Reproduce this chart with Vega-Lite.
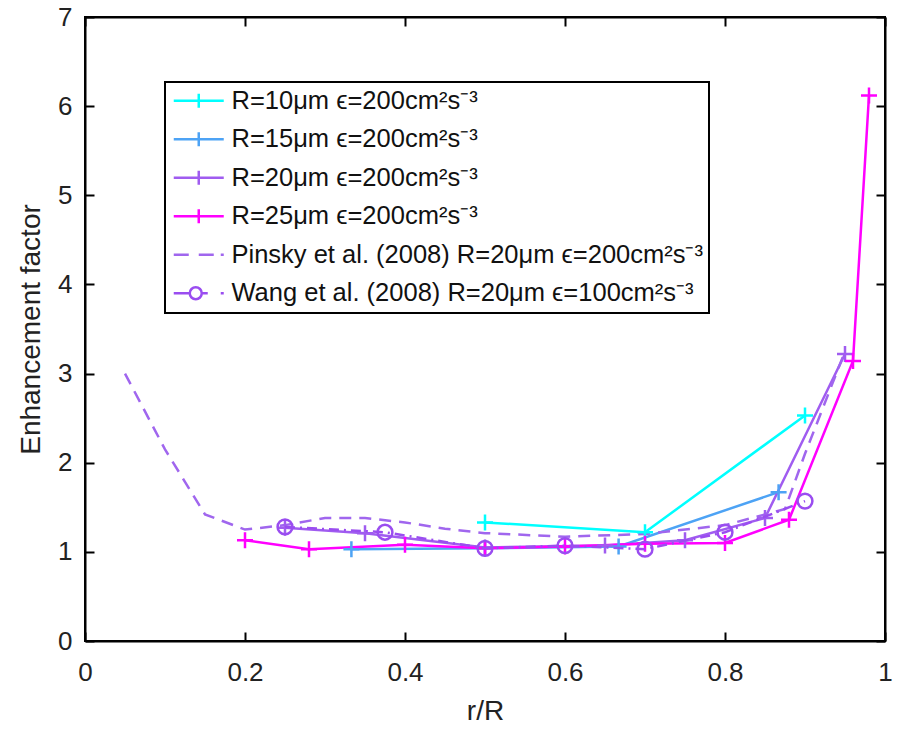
{
  "$schema": "https://vega.github.io/schema/vega-lite/v6.json",
  "width": 800,
  "height": 624,
  "autosize": "none",
  "padding": {"left": 85, "top": 17, "right": 16, "bottom": 89},
  "background": "white",
  "config": {
    "view": {"stroke": "black", "strokeWidth": 2},
    "font": "Liberation Sans",
    "axis": {"grid": false, "domainColor": "black", "domainWidth": 2, "tickColor": "black", "tickWidth": 2, "tickSize": -9, "labelColor": "#222", "titleColor": "#222", "labelFontSize": 26, "titleFontSize": 28, "titleFontWeight": "normal", "labelFont": "Liberation Sans", "titleFont": "Liberation Sans", "labelFlush": false},
    "legend": {
      "orient": "none",
      "legendX": 80,
      "legendY": 65,
      "direction": "vertical",
      "fillColor": "white",
      "strokeColor": "black",
      "strokeWidth": 2,
      "padding": 6,
      "labelFontSize": 25.5,
      "labelFont": "Liberation Sans",
      "labelColor": "#111",
      "labelLimit": 1000,
      "symbolSize": 400,
      "symbolStrokeWidth": 2.5,
      "labelOffset": 35,
      "rowPadding": 11.5
    }
  },
  "datasets": {
    "main": [
      {"s": "R=10μm ϵ=200cm²s⁻³", "x": 0.5, "y": 1.33},
      {"s": "R=10μm ϵ=200cm²s⁻³", "x": 0.7, "y": 1.22},
      {"s": "R=10μm ϵ=200cm²s⁻³", "x": 0.9, "y": 2.53},
      {"s": "R=15μm ϵ=200cm²s⁻³", "x": 0.333, "y": 1.03},
      {"s": "R=15μm ϵ=200cm²s⁻³", "x": 0.5, "y": 1.04},
      {"s": "R=15μm ϵ=200cm²s⁻³", "x": 0.667, "y": 1.06},
      {"s": "R=15μm ϵ=200cm²s⁻³", "x": 0.867, "y": 1.67},
      {"s": "R=20μm ϵ=200cm²s⁻³", "x": 0.25, "y": 1.27},
      {"s": "R=20μm ϵ=200cm²s⁻³", "x": 0.35, "y": 1.21},
      {"s": "R=20μm ϵ=200cm²s⁻³", "x": 0.5, "y": 1.05},
      {"s": "R=20μm ϵ=200cm²s⁻³", "x": 0.65, "y": 1.07},
      {"s": "R=20μm ϵ=200cm²s⁻³", "x": 0.75, "y": 1.13},
      {"s": "R=20μm ϵ=200cm²s⁻³", "x": 0.85, "y": 1.38},
      {"s": "R=20μm ϵ=200cm²s⁻³", "x": 0.95, "y": 3.22},
      {"s": "R=25μm ϵ=200cm²s⁻³", "x": 0.2, "y": 1.13},
      {"s": "R=25μm ϵ=200cm²s⁻³", "x": 0.28, "y": 1.03},
      {"s": "R=25μm ϵ=200cm²s⁻³", "x": 0.4, "y": 1.08},
      {"s": "R=25μm ϵ=200cm²s⁻³", "x": 0.5, "y": 1.04},
      {"s": "R=25μm ϵ=200cm²s⁻³", "x": 0.6, "y": 1.06},
      {"s": "R=25μm ϵ=200cm²s⁻³", "x": 0.7, "y": 1.09},
      {"s": "R=25μm ϵ=200cm²s⁻³", "x": 0.8, "y": 1.1},
      {"s": "R=25μm ϵ=200cm²s⁻³", "x": 0.88, "y": 1.36},
      {"s": "R=25μm ϵ=200cm²s⁻³", "x": 0.96, "y": 3.14},
      {"s": "R=25μm ϵ=200cm²s⁻³", "x": 0.98, "y": 6.12}
    ],
    "pinsky": [
      {"s": "Pinsky et al. (2008) R=20μm ϵ=200cm²s⁻³", "x": 0.05, "y": 3.0},
      {"s": "Pinsky et al. (2008) R=20μm ϵ=200cm²s⁻³", "x": 0.1, "y": 2.15},
      {"s": "Pinsky et al. (2008) R=20μm ϵ=200cm²s⁻³", "x": 0.15, "y": 1.42},
      {"s": "Pinsky et al. (2008) R=20μm ϵ=200cm²s⁻³", "x": 0.2, "y": 1.25},
      {"s": "Pinsky et al. (2008) R=20μm ϵ=200cm²s⁻³", "x": 0.25, "y": 1.3},
      {"s": "Pinsky et al. (2008) R=20μm ϵ=200cm²s⁻³", "x": 0.3, "y": 1.38},
      {"s": "Pinsky et al. (2008) R=20μm ϵ=200cm²s⁻³", "x": 0.35, "y": 1.38},
      {"s": "Pinsky et al. (2008) R=20μm ϵ=200cm²s⁻³", "x": 0.4, "y": 1.33},
      {"s": "Pinsky et al. (2008) R=20μm ϵ=200cm²s⁻³", "x": 0.45, "y": 1.26},
      {"s": "Pinsky et al. (2008) R=20μm ϵ=200cm²s⁻³", "x": 0.5, "y": 1.21},
      {"s": "Pinsky et al. (2008) R=20μm ϵ=200cm²s⁻³", "x": 0.6, "y": 1.17},
      {"s": "Pinsky et al. (2008) R=20μm ϵ=200cm²s⁻³", "x": 0.7, "y": 1.2},
      {"s": "Pinsky et al. (2008) R=20μm ϵ=200cm²s⁻³", "x": 0.8, "y": 1.3},
      {"s": "Pinsky et al. (2008) R=20μm ϵ=200cm²s⁻³", "x": 0.875, "y": 1.48},
      {"s": "Pinsky et al. (2008) R=20μm ϵ=200cm²s⁻³", "x": 0.9, "y": 2.1},
      {"s": "Pinsky et al. (2008) R=20μm ϵ=200cm²s⁻³", "x": 0.95, "y": 3.25}
    ],
    "wang": [
      {"s": "Wang et al. (2008) R=20μm ϵ=100cm²s⁻³", "x": 0.25, "y": 1.28},
      {"s": "Wang et al. (2008) R=20μm ϵ=100cm²s⁻³", "x": 0.375, "y": 1.22},
      {"s": "Wang et al. (2008) R=20μm ϵ=100cm²s⁻³", "x": 0.5, "y": 1.04},
      {"s": "Wang et al. (2008) R=20μm ϵ=100cm²s⁻³", "x": 0.6, "y": 1.07},
      {"s": "Wang et al. (2008) R=20μm ϵ=100cm²s⁻³", "x": 0.7, "y": 1.03},
      {"s": "Wang et al. (2008) R=20μm ϵ=100cm²s⁻³", "x": 0.8, "y": 1.22},
      {"s": "Wang et al. (2008) R=20μm ϵ=100cm²s⁻³", "x": 0.9, "y": 1.57}
    ]
  },
  "resolve": {"axis": {"x": "independent", "y": "independent"}},
  "layer": [
    {
      "data": {"name": "wang"},
      "transform": [{"filter": "datum.x > 5"}],
      "mark": {"type": "point", "filled": false, "size": 400, "strokeWidth": 2.5, "opacity": 1},
      "encoding": {
        "x": {"field": "x", "type": "quantitative", "scale": {"domain": [0, 1]}, "axis": null},
        "y": {"field": "y", "type": "quantitative", "scale": {"domain": [0, 7]}, "axis": null},
        "color": {"field": "s", "type": "nominal", "title": null,
          "scale": {
            "domain": ["R=10μm ϵ=200cm²s⁻³", "R=15μm ϵ=200cm²s⁻³", "R=20μm ϵ=200cm²s⁻³", "R=25μm ϵ=200cm²s⁻³", "Pinsky et al. (2008) R=20μm ϵ=200cm²s⁻³", "Wang et al. (2008) R=20μm ϵ=100cm²s⁻³"],
            "range": ["#00FFFF", "#4DA3F5", "#A05CF0", "#FF00FF", "#A066EE", "#9A4DF0"]
          }
        },
        "shape": {"field": "s", "type": "nominal", "title": null,
          "scale": {
            "domain": ["R=10μm ϵ=200cm²s⁻³", "R=15μm ϵ=200cm²s⁻³", "R=20μm ϵ=200cm²s⁻³", "R=25μm ϵ=200cm²s⁻³", "Pinsky et al. (2008) R=20μm ϵ=200cm²s⁻³", "Wang et al. (2008) R=20μm ϵ=100cm²s⁻³"],
            "range": ["M-1,0H4M1.5,-0.7V0.7", "M-1,0H4M1.5,-0.7V0.7", "M-1,0H4M1.5,-0.7V0.7", "M-1,0H4M1.5,-0.7V0.7", "M-1,0H0.5M1.5,0H3M3.7,0H4", "M-1,0H0.6M1.8,0A0.6,0.6 0 1,1 0.6,0A0.6,0.6 0 1,1 1.8,0M1.8,0H2.4M3.7,0H4"]
          }
        }
      }
    },
    {
      "data": {"name": "main"},
      "mark": {"type": "line", "strokeWidth": 2.5},
      "encoding": {
        "x": {"field": "x", "type": "quantitative",
          "axis": {"orient": "bottom", "values": [0, 0.2, 0.4, 0.6, 0.8, 1], "format": "~g", "title": "r/R", "labelPadding": 27, "titlePadding": 12}},
        "y": {"field": "y", "type": "quantitative",
          "axis": {"orient": "left", "values": [0, 1, 2, 3, 4, 5, 6, 7], "title": "Enhancement factor", "labelPadding": 22, "titlePadding": 12}},
        "color": {"field": "s", "type": "nominal", "title": null}
      }
    },
    {
      "data": {"name": "pinsky"},
      "mark": {"type": "line", "strokeWidth": 2.5, "strokeDash": [12, 8]},
      "encoding": {
        "x": {"field": "x", "type": "quantitative",
          "axis": {"orient": "top", "values": [0, 0.2, 0.4, 0.6, 0.8, 1], "labels": false, "title": null}},
        "y": {"field": "y", "type": "quantitative",
          "axis": {"orient": "right", "values": [0, 1, 2, 3, 4, 5, 6, 7], "labels": false, "title": null}},
        "color": {"field": "s", "type": "nominal", "title": null}
      }
    },
    {
      "data": {"name": "main"},
      "mark": {"type": "point", "shape": "M-1,0H1M0,-1V1", "filled": false, "size": 256, "strokeWidth": 2.5, "opacity": 1},
      "encoding": {
        "x": {"field": "x", "type": "quantitative", "axis": null},
        "y": {"field": "y", "type": "quantitative", "axis": null},
        "color": {"field": "s", "type": "nominal", "title": null}
      }
    },
    {
      "data": {"name": "wang"},
      "mark": {"type": "line", "strokeWidth": 2.5, "strokeDash": [10, 5, 2, 5]},
      "encoding": {
        "x": {"field": "x", "type": "quantitative", "axis": null},
        "y": {"field": "y", "type": "quantitative", "axis": null},
        "color": {"field": "s", "type": "nominal", "title": null}
      }
    },
    {
      "data": {"name": "wang"},
      "mark": {"type": "point", "shape": "circle", "filled": false, "size": 220, "strokeWidth": 2.5, "opacity": 1},
      "encoding": {
        "x": {"field": "x", "type": "quantitative", "axis": null},
        "y": {"field": "y", "type": "quantitative", "axis": null},
        "color": {"field": "s", "type": "nominal", "title": null}
      }
    }
  ]
}
